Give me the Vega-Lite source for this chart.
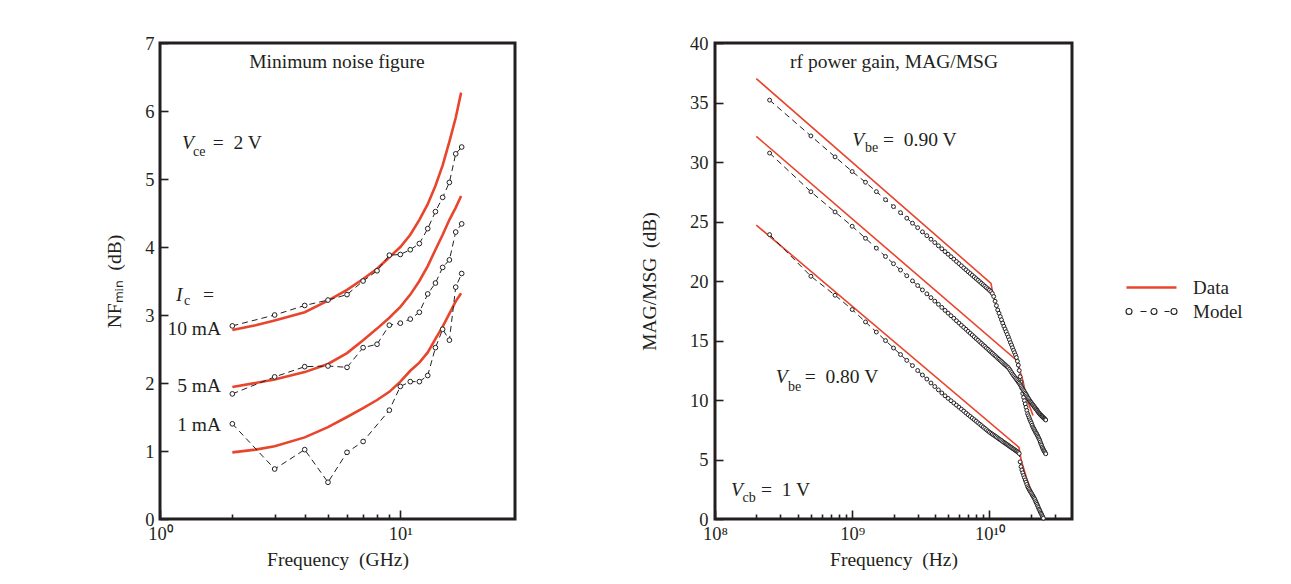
{
  "$schema": "https://vega.github.io/schema/vega-lite/v6.json",
  "background": "white",
  "padding": {"left": 103, "top": 32, "right": 5, "bottom": 5},
  "config": {
    "font": "Liberation Serif",
    "view": {"stroke": "#231f20", "strokeWidth": 3},
    "axis": {
      "labelFont": "Liberation Serif", "labelFontSize": 18.5, "labelColor": "#231f20",
      "titleFont": "Liberation Serif", "titleFontSize": 19.5, "titleFontWeight": "normal", "titleColor": "#231f20",
      "grid": false, "domain": false, "ticks": true, "tickColor": "#231f20", "tickWidth": 1.6, "tickOpacity": 1,
      "labelFlush": false, "labelOverlap": false
    },
    "legend": {"labelFont": "Liberation Serif", "labelFontSize": 19, "labelColor": "#231f20", "title": null, "symbolSize": 100, "labelOffset": 32},
    "text": {"font": "Liberation Serif", "color": "#231f20"}
  },
  "datasets": {
    "nfData": [
      {"ghz": 2, "db": 2.78, "ic": "10 mA"}, {"ghz": 2.5, "db": 2.85, "ic": "10 mA"}, {"ghz": 3, "db": 2.92, "ic": "10 mA"}, {"ghz": 4, "db": 3.04, "ic": "10 mA"}, {"ghz": 5, "db": 3.21, "ic": "10 mA"}, {"ghz": 6, "db": 3.37, "ic": "10 mA"}, {"ghz": 7, "db": 3.53, "ic": "10 mA"}, {"ghz": 8, "db": 3.68, "ic": "10 mA"}, {"ghz": 9, "db": 3.85, "ic": "10 mA"}, {"ghz": 10, "db": 4.0, "ic": "10 mA"}, {"ghz": 11, "db": 4.18, "ic": "10 mA"}, {"ghz": 12, "db": 4.4, "ic": "10 mA"}, {"ghz": 13, "db": 4.63, "ic": "10 mA"}, {"ghz": 14, "db": 4.9, "ic": "10 mA"}, {"ghz": 15, "db": 5.2, "ic": "10 mA"}, {"ghz": 16, "db": 5.55, "ic": "10 mA"}, {"ghz": 17, "db": 5.9, "ic": "10 mA"}, {"ghz": 17.9, "db": 6.27, "ic": "10 mA"},
      {"ghz": 2, "db": 1.94, "ic": "5 mA"}, {"ghz": 3, "db": 2.05, "ic": "5 mA"}, {"ghz": 4, "db": 2.16, "ic": "5 mA"}, {"ghz": 5, "db": 2.28, "ic": "5 mA"}, {"ghz": 6, "db": 2.44, "ic": "5 mA"}, {"ghz": 7, "db": 2.63, "ic": "5 mA"}, {"ghz": 8, "db": 2.8, "ic": "5 mA"}, {"ghz": 9, "db": 2.96, "ic": "5 mA"}, {"ghz": 10, "db": 3.12, "ic": "5 mA"}, {"ghz": 11, "db": 3.3, "ic": "5 mA"}, {"ghz": 12, "db": 3.5, "ic": "5 mA"}, {"ghz": 13, "db": 3.72, "ic": "5 mA"}, {"ghz": 14, "db": 3.96, "ic": "5 mA"}, {"ghz": 15, "db": 4.18, "ic": "5 mA"}, {"ghz": 16, "db": 4.4, "ic": "5 mA"}, {"ghz": 17, "db": 4.58, "ic": "5 mA"}, {"ghz": 17.9, "db": 4.75, "ic": "5 mA"},
      {"ghz": 2, "db": 0.98, "ic": "1 mA"}, {"ghz": 2.5, "db": 1.02, "ic": "1 mA"}, {"ghz": 3, "db": 1.07, "ic": "1 mA"}, {"ghz": 4, "db": 1.2, "ic": "1 mA"}, {"ghz": 5, "db": 1.35, "ic": "1 mA"}, {"ghz": 6, "db": 1.5, "ic": "1 mA"}, {"ghz": 7, "db": 1.63, "ic": "1 mA"}, {"ghz": 8, "db": 1.75, "ic": "1 mA"}, {"ghz": 9, "db": 1.87, "ic": "1 mA"}, {"ghz": 10, "db": 2.02, "ic": "1 mA"}, {"ghz": 11, "db": 2.18, "ic": "1 mA"}, {"ghz": 12, "db": 2.3, "ic": "1 mA"}, {"ghz": 13, "db": 2.45, "ic": "1 mA"}, {"ghz": 14, "db": 2.65, "ic": "1 mA"}, {"ghz": 15, "db": 2.83, "ic": "1 mA"}, {"ghz": 16, "db": 3.02, "ic": "1 mA"}, {"ghz": 17, "db": 3.2, "ic": "1 mA"}, {"ghz": 17.9, "db": 3.32, "ic": "1 mA"}
    ],
    "nfModel": [
      {"ghz": 2, "db": 2.84, "ic": "10 mA"}, {"ghz": 3, "db": 3.0, "ic": "10 mA"}, {"ghz": 4, "db": 3.14, "ic": "10 mA"}, {"ghz": 5, "db": 3.22, "ic": "10 mA"}, {"ghz": 6, "db": 3.3, "ic": "10 mA"}, {"ghz": 7, "db": 3.5, "ic": "10 mA"}, {"ghz": 8, "db": 3.65, "ic": "10 mA"}, {"ghz": 9, "db": 3.88, "ic": "10 mA"}, {"ghz": 10, "db": 3.89, "ic": "10 mA"}, {"ghz": 11, "db": 3.96, "ic": "10 mA"}, {"ghz": 12, "db": 4.05, "ic": "10 mA"}, {"ghz": 13, "db": 4.27, "ic": "10 mA"}, {"ghz": 14, "db": 4.52, "ic": "10 mA"}, {"ghz": 15, "db": 4.73, "ic": "10 mA"}, {"ghz": 16, "db": 4.95, "ic": "10 mA"}, {"ghz": 17, "db": 5.37, "ic": "10 mA"}, {"ghz": 18, "db": 5.47, "ic": "10 mA"},
      {"ghz": 2, "db": 1.84, "ic": "5 mA"}, {"ghz": 3, "db": 2.09, "ic": "5 mA"}, {"ghz": 4, "db": 2.24, "ic": "5 mA"}, {"ghz": 5, "db": 2.25, "ic": "5 mA"}, {"ghz": 6, "db": 2.23, "ic": "5 mA"}, {"ghz": 7, "db": 2.52, "ic": "5 mA"}, {"ghz": 8, "db": 2.57, "ic": "5 mA"}, {"ghz": 9, "db": 2.85, "ic": "5 mA"}, {"ghz": 10, "db": 2.88, "ic": "5 mA"}, {"ghz": 11, "db": 2.94, "ic": "5 mA"}, {"ghz": 12, "db": 3.04, "ic": "5 mA"}, {"ghz": 13, "db": 3.31, "ic": "5 mA"}, {"ghz": 14, "db": 3.47, "ic": "5 mA"}, {"ghz": 15, "db": 3.7, "ic": "5 mA"}, {"ghz": 16, "db": 3.81, "ic": "5 mA"}, {"ghz": 17, "db": 4.22, "ic": "5 mA"}, {"ghz": 18, "db": 4.34, "ic": "5 mA"},
      {"ghz": 2, "db": 1.4, "ic": "1 mA"}, {"ghz": 3, "db": 0.735, "ic": "1 mA"}, {"ghz": 4, "db": 1.02, "ic": "1 mA"}, {"ghz": 5, "db": 0.54, "ic": "1 mA"}, {"ghz": 6, "db": 0.98, "ic": "1 mA"}, {"ghz": 7, "db": 1.14, "ic": "1 mA"}, {"ghz": 9, "db": 1.6, "ic": "1 mA"}, {"ghz": 10, "db": 1.95, "ic": "1 mA"}, {"ghz": 11, "db": 2.02, "ic": "1 mA"}, {"ghz": 12, "db": 2.02, "ic": "1 mA"}, {"ghz": 13, "db": 2.11, "ic": "1 mA"}, {"ghz": 14, "db": 2.52, "ic": "1 mA"}, {"ghz": 15, "db": 2.79, "ic": "1 mA"}, {"ghz": 16, "db": 2.63, "ic": "1 mA"}, {"ghz": 17, "db": 3.41, "ic": "1 mA"}, {"ghz": 18, "db": 3.61, "ic": "1 mA"}
    ],
    "magData": [
      {"hz": 2e8, "db": 37.0, "vbe": "0.90"}, {"hz": 1.028e10, "db": 19.8, "vbe": "0.90"}, {"hz": 1.062e10, "db": 18.8, "vbe": "0.90"}, {"hz": 1.259e10, "db": 16.3, "vbe": "0.90"}, {"hz": 1.413e10, "db": 14.9, "vbe": "0.90"}, {"hz": 1.585e10, "db": 13.4, "vbe": "0.90"}, {"hz": 1.663e10, "db": 12.5, "vbe": "0.90"}, {"hz": 1.758e10, "db": 11.6, "vbe": "0.90"}, {"hz": 1.858e10, "db": 10.2, "vbe": "0.90"}, {"hz": 2.08e10, "db": 8.7, "vbe": "0.90"},
      {"hz": 2e8, "db": 32.15, "vbe": "0.85"}, {"hz": 1.643e10, "db": 13.17, "vbe": "0.85"},
      {"hz": 2e8, "db": 24.7, "vbe": "0.80"}, {"hz": 1.643e10, "db": 6.02, "vbe": "0.80"}, {"hz": 1.708e10, "db": 4.9, "vbe": "0.80"}, {"hz": 1.858e10, "db": 3.5, "vbe": "0.80"}, {"hz": 2.056e10, "db": 2.1, "vbe": "0.80"}
    ],
    "magModel": [
      {"hz": 2.5e8, "db": 35.2, "vbe": "0.90"}, {"hz": 5e8, "db": 32.19, "vbe": "0.90"}, {"hz": 7.5e8, "db": 30.43, "vbe": "0.90"}, {"hz": 1e9, "db": 29.2, "vbe": "0.90"}, {"hz": 1.25e9, "db": 28.3, "vbe": "0.90"}, {"hz": 1.5e9, "db": 27.51, "vbe": "0.90"}, {"hz": 1.75e9, "db": 26.83, "vbe": "0.90"}, {"hz": 2e9, "db": 26.25, "vbe": "0.90"}, {"hz": 2.25e9, "db": 25.74, "vbe": "0.90"}, {"hz": 2.5e9, "db": 25.28, "vbe": "0.90"},
      {"hz": 2.75e9, "db": 24.86, "vbe": "0.90"}, {"hz": 3e9, "db": 24.48, "vbe": "0.90"}, {"hz": 3.25e9, "db": 24.13, "vbe": "0.90"}, {"hz": 3.5e9, "db": 23.81, "vbe": "0.90"}, {"hz": 3.75e9, "db": 23.51, "vbe": "0.90"}, {"hz": 4e9, "db": 23.23, "vbe": "0.90"}, {"hz": 4.25e9, "db": 22.96, "vbe": "0.90"}, {"hz": 4.5e9, "db": 22.71, "vbe": "0.90"}, {"hz": 4.75e9, "db": 22.47, "vbe": "0.90"}, {"hz": 5e9, "db": 22.25, "vbe": "0.90"},
      {"hz": 5.25e9, "db": 22.04, "vbe": "0.90"}, {"hz": 5.5e9, "db": 21.84, "vbe": "0.90"}, {"hz": 5.75e9, "db": 21.64, "vbe": "0.90"}, {"hz": 6e9, "db": 21.46, "vbe": "0.90"}, {"hz": 6.25e9, "db": 21.28, "vbe": "0.90"}, {"hz": 6.5e9, "db": 21.1, "vbe": "0.90"}, {"hz": 6.75e9, "db": 20.94, "vbe": "0.90"}, {"hz": 7e9, "db": 20.78, "vbe": "0.90"}, {"hz": 7.25e9, "db": 20.63, "vbe": "0.90"}, {"hz": 7.5e9, "db": 20.48, "vbe": "0.90"},
      {"hz": 7.75e9, "db": 20.34, "vbe": "0.90"}, {"hz": 8e9, "db": 20.2, "vbe": "0.90"}, {"hz": 8.25e9, "db": 20.07, "vbe": "0.90"}, {"hz": 8.5e9, "db": 19.94, "vbe": "0.90"}, {"hz": 8.75e9, "db": 19.81, "vbe": "0.90"}, {"hz": 9e9, "db": 19.69, "vbe": "0.90"}, {"hz": 9.25e9, "db": 19.57, "vbe": "0.90"}, {"hz": 9.5e9, "db": 19.45, "vbe": "0.90"}, {"hz": 9.75e9, "db": 19.34, "vbe": "0.90"}, {"hz": 1e10, "db": 19.23, "vbe": "0.90"},
      {"hz": 1.025e10, "db": 19.11, "vbe": "0.90"}, {"hz": 1.05e10, "db": 18.95, "vbe": "0.90"}, {"hz": 1.075e10, "db": 18.7, "vbe": "0.90"}, {"hz": 1.1e10, "db": 18.3, "vbe": "0.90"}, {"hz": 1.125e10, "db": 17.93, "vbe": "0.90"}, {"hz": 1.15e10, "db": 17.57, "vbe": "0.90"}, {"hz": 1.175e10, "db": 17.29, "vbe": "0.90"}, {"hz": 1.2e10, "db": 17.01, "vbe": "0.90"}, {"hz": 1.225e10, "db": 16.74, "vbe": "0.90"}, {"hz": 1.25e10, "db": 16.46, "vbe": "0.90"},
      {"hz": 1.275e10, "db": 16.2, "vbe": "0.90"}, {"hz": 1.3e10, "db": 15.97, "vbe": "0.90"}, {"hz": 1.325e10, "db": 15.74, "vbe": "0.90"}, {"hz": 1.35e10, "db": 15.51, "vbe": "0.90"}, {"hz": 1.375e10, "db": 15.29, "vbe": "0.90"}, {"hz": 1.4e10, "db": 15.06, "vbe": "0.90"}, {"hz": 1.425e10, "db": 14.82, "vbe": "0.90"}, {"hz": 1.45e10, "db": 14.62, "vbe": "0.90"}, {"hz": 1.475e10, "db": 14.39, "vbe": "0.90"}, {"hz": 1.5e10, "db": 14.18, "vbe": "0.90"},
      {"hz": 1.525e10, "db": 13.98, "vbe": "0.90"}, {"hz": 1.55e10, "db": 13.78, "vbe": "0.90"}, {"hz": 1.575e10, "db": 13.57, "vbe": "0.90"}, {"hz": 1.6e10, "db": 13.26, "vbe": "0.90"}, {"hz": 1.625e10, "db": 12.93, "vbe": "0.90"}, {"hz": 1.65e10, "db": 12.48, "vbe": "0.90"}, {"hz": 1.675e10, "db": 11.96, "vbe": "0.90"}, {"hz": 1.7e10, "db": 11.51, "vbe": "0.90"}, {"hz": 1.725e10, "db": 10.99, "vbe": "0.90"}, {"hz": 1.75e10, "db": 10.55, "vbe": "0.90"},
      {"hz": 1.775e10, "db": 10.22, "vbe": "0.90"}, {"hz": 1.8e10, "db": 9.94, "vbe": "0.90"}, {"hz": 1.825e10, "db": 9.67, "vbe": "0.90"}, {"hz": 1.85e10, "db": 9.39, "vbe": "0.90"}, {"hz": 1.875e10, "db": 9.12, "vbe": "0.90"}, {"hz": 1.9e10, "db": 8.85, "vbe": "0.90"}, {"hz": 1.925e10, "db": 8.68, "vbe": "0.90"}, {"hz": 1.95e10, "db": 8.51, "vbe": "0.90"}, {"hz": 1.975e10, "db": 8.34, "vbe": "0.90"}, {"hz": 2e10, "db": 8.19, "vbe": "0.90"},
      {"hz": 2.025e10, "db": 8.05, "vbe": "0.90"}, {"hz": 2.05e10, "db": 7.88, "vbe": "0.90"}, {"hz": 2.075e10, "db": 7.73, "vbe": "0.90"}, {"hz": 2.1e10, "db": 7.61, "vbe": "0.90"}, {"hz": 2.125e10, "db": 7.51, "vbe": "0.90"}, {"hz": 2.15e10, "db": 7.4, "vbe": "0.90"}, {"hz": 2.175e10, "db": 7.27, "vbe": "0.90"}, {"hz": 2.2e10, "db": 7.19, "vbe": "0.90"}, {"hz": 2.225e10, "db": 7.08, "vbe": "0.90"}, {"hz": 2.25e10, "db": 6.97, "vbe": "0.90"},
      {"hz": 2.275e10, "db": 6.86, "vbe": "0.90"}, {"hz": 2.3e10, "db": 6.74, "vbe": "0.90"}, {"hz": 2.325e10, "db": 6.62, "vbe": "0.90"}, {"hz": 2.35e10, "db": 6.47, "vbe": "0.90"}, {"hz": 2.375e10, "db": 6.32, "vbe": "0.90"}, {"hz": 2.4e10, "db": 6.2, "vbe": "0.90"}, {"hz": 2.425e10, "db": 6.05, "vbe": "0.90"}, {"hz": 2.45e10, "db": 5.93, "vbe": "0.90"}, {"hz": 2.475e10, "db": 5.82, "vbe": "0.90"}, {"hz": 2.5e10, "db": 5.74, "vbe": "0.90"},
      {"hz": 2.525e10, "db": 5.66, "vbe": "0.90"}, {"hz": 2.55e10, "db": 5.56, "vbe": "0.90"}, {"hz": 2.575e10, "db": 5.48, "vbe": "0.90"},
      {"hz": 2.5e8, "db": 30.75, "vbe": "0.85"}, {"hz": 5e8, "db": 27.5, "vbe": "0.85"}, {"hz": 7.5e8, "db": 25.8, "vbe": "0.85"}, {"hz": 1e9, "db": 24.6, "vbe": "0.85"}, {"hz": 1.25e9, "db": 23.59, "vbe": "0.85"}, {"hz": 1.5e9, "db": 22.76, "vbe": "0.85"}, {"hz": 1.75e9, "db": 22.06, "vbe": "0.85"}, {"hz": 2e9, "db": 21.45, "vbe": "0.85"}, {"hz": 2.25e9, "db": 20.92, "vbe": "0.85"}, {"hz": 2.5e9, "db": 20.44, "vbe": "0.85"},
      {"hz": 2.75e9, "db": 20.01, "vbe": "0.85"}, {"hz": 3e9, "db": 19.62, "vbe": "0.85"}, {"hz": 3.25e9, "db": 19.25, "vbe": "0.85"}, {"hz": 3.5e9, "db": 18.92, "vbe": "0.85"}, {"hz": 3.75e9, "db": 18.6, "vbe": "0.85"}, {"hz": 4e9, "db": 18.31, "vbe": "0.85"}, {"hz": 4.25e9, "db": 18.04, "vbe": "0.85"}, {"hz": 4.5e9, "db": 17.78, "vbe": "0.85"}, {"hz": 4.75e9, "db": 17.53, "vbe": "0.85"}, {"hz": 5e9, "db": 17.3, "vbe": "0.85"},
      {"hz": 5.25e9, "db": 17.08, "vbe": "0.85"}, {"hz": 5.5e9, "db": 16.87, "vbe": "0.85"}, {"hz": 5.75e9, "db": 16.66, "vbe": "0.85"}, {"hz": 6e9, "db": 16.47, "vbe": "0.85"}, {"hz": 6.25e9, "db": 16.28, "vbe": "0.85"}, {"hz": 6.5e9, "db": 16.1, "vbe": "0.85"}, {"hz": 6.75e9, "db": 15.94, "vbe": "0.85"}, {"hz": 7e9, "db": 15.77, "vbe": "0.85"}, {"hz": 7.25e9, "db": 15.61, "vbe": "0.85"}, {"hz": 7.5e9, "db": 15.46, "vbe": "0.85"},
      {"hz": 7.75e9, "db": 15.31, "vbe": "0.85"}, {"hz": 8e9, "db": 15.16, "vbe": "0.85"}, {"hz": 8.25e9, "db": 15.03, "vbe": "0.85"}, {"hz": 8.5e9, "db": 14.89, "vbe": "0.85"}, {"hz": 8.75e9, "db": 14.76, "vbe": "0.85"}, {"hz": 9e9, "db": 14.63, "vbe": "0.85"}, {"hz": 9.25e9, "db": 14.51, "vbe": "0.85"}, {"hz": 9.5e9, "db": 14.38, "vbe": "0.85"}, {"hz": 9.75e9, "db": 14.27, "vbe": "0.85"}, {"hz": 1e10, "db": 14.15, "vbe": "0.85"},
      {"hz": 1.025e10, "db": 14.04, "vbe": "0.85"}, {"hz": 1.05e10, "db": 13.93, "vbe": "0.85"}, {"hz": 1.075e10, "db": 13.82, "vbe": "0.85"}, {"hz": 1.1e10, "db": 13.72, "vbe": "0.85"}, {"hz": 1.125e10, "db": 13.62, "vbe": "0.85"}, {"hz": 1.15e10, "db": 13.51, "vbe": "0.85"}, {"hz": 1.175e10, "db": 13.42, "vbe": "0.85"}, {"hz": 1.2e10, "db": 13.32, "vbe": "0.85"}, {"hz": 1.225e10, "db": 13.23, "vbe": "0.85"}, {"hz": 1.25e10, "db": 13.14, "vbe": "0.85"},
      {"hz": 1.275e10, "db": 13.04, "vbe": "0.85"}, {"hz": 1.3e10, "db": 12.96, "vbe": "0.85"}, {"hz": 1.325e10, "db": 12.88, "vbe": "0.85"}, {"hz": 1.35e10, "db": 12.79, "vbe": "0.85"}, {"hz": 1.375e10, "db": 12.71, "vbe": "0.85"}, {"hz": 1.4e10, "db": 12.58, "vbe": "0.85"}, {"hz": 1.425e10, "db": 12.45, "vbe": "0.85"}, {"hz": 1.45e10, "db": 12.31, "vbe": "0.85"}, {"hz": 1.475e10, "db": 12.18, "vbe": "0.85"}, {"hz": 1.5e10, "db": 12.06, "vbe": "0.85"},
      {"hz": 1.525e10, "db": 11.95, "vbe": "0.85"}, {"hz": 1.55e10, "db": 11.84, "vbe": "0.85"}, {"hz": 1.575e10, "db": 11.73, "vbe": "0.85"}, {"hz": 1.6e10, "db": 11.62, "vbe": "0.85"}, {"hz": 1.625e10, "db": 11.51, "vbe": "0.85"}, {"hz": 1.65e10, "db": 11.41, "vbe": "0.85"}, {"hz": 1.675e10, "db": 11.29, "vbe": "0.85"}, {"hz": 1.7e10, "db": 11.18, "vbe": "0.85"}, {"hz": 1.725e10, "db": 11.04, "vbe": "0.85"}, {"hz": 1.75e10, "db": 10.93, "vbe": "0.85"},
      {"hz": 1.775e10, "db": 10.81, "vbe": "0.85"}, {"hz": 1.8e10, "db": 10.7, "vbe": "0.85"}, {"hz": 1.825e10, "db": 10.58, "vbe": "0.85"}, {"hz": 1.85e10, "db": 10.47, "vbe": "0.85"}, {"hz": 1.875e10, "db": 10.35, "vbe": "0.85"}, {"hz": 1.9e10, "db": 10.23, "vbe": "0.85"}, {"hz": 1.925e10, "db": 10.13, "vbe": "0.85"}, {"hz": 1.95e10, "db": 10.02, "vbe": "0.85"}, {"hz": 1.975e10, "db": 9.91, "vbe": "0.85"}, {"hz": 2e10, "db": 9.83, "vbe": "0.85"},
      {"hz": 2.025e10, "db": 9.76, "vbe": "0.85"}, {"hz": 2.05e10, "db": 9.66, "vbe": "0.85"}, {"hz": 2.075e10, "db": 9.59, "vbe": "0.85"}, {"hz": 2.1e10, "db": 9.51, "vbe": "0.85"}, {"hz": 2.125e10, "db": 9.43, "vbe": "0.85"}, {"hz": 2.15e10, "db": 9.36, "vbe": "0.85"}, {"hz": 2.175e10, "db": 9.27, "vbe": "0.85"}, {"hz": 2.2e10, "db": 9.21, "vbe": "0.85"}, {"hz": 2.225e10, "db": 9.13, "vbe": "0.85"}, {"hz": 2.25e10, "db": 9.05, "vbe": "0.85"},
      {"hz": 2.275e10, "db": 8.97, "vbe": "0.85"}, {"hz": 2.3e10, "db": 8.9, "vbe": "0.85"}, {"hz": 2.325e10, "db": 8.84, "vbe": "0.85"}, {"hz": 2.35e10, "db": 8.78, "vbe": "0.85"}, {"hz": 2.375e10, "db": 8.72, "vbe": "0.85"}, {"hz": 2.4e10, "db": 8.67, "vbe": "0.85"}, {"hz": 2.425e10, "db": 8.62, "vbe": "0.85"}, {"hz": 2.45e10, "db": 8.57, "vbe": "0.85"}, {"hz": 2.475e10, "db": 8.52, "vbe": "0.85"}, {"hz": 2.5e10, "db": 8.47, "vbe": "0.85"},
      {"hz": 2.525e10, "db": 8.43, "vbe": "0.85"}, {"hz": 2.55e10, "db": 8.37, "vbe": "0.85"}, {"hz": 2.575e10, "db": 8.32, "vbe": "0.85"},
      {"hz": 2.5e8, "db": 23.9, "vbe": "0.80"}, {"hz": 5e8, "db": 20.4, "vbe": "0.80"}, {"hz": 7.5e8, "db": 18.8, "vbe": "0.80"}, {"hz": 1e9, "db": 17.6, "vbe": "0.80"}, {"hz": 1.25e9, "db": 16.56, "vbe": "0.80"}, {"hz": 1.5e9, "db": 15.71, "vbe": "0.80"}, {"hz": 1.75e9, "db": 14.99, "vbe": "0.80"}, {"hz": 2e9, "db": 14.37, "vbe": "0.80"}, {"hz": 2.25e9, "db": 13.82, "vbe": "0.80"}, {"hz": 2.5e9, "db": 13.33, "vbe": "0.80"},
      {"hz": 2.75e9, "db": 12.89, "vbe": "0.80"}, {"hz": 3e9, "db": 12.48, "vbe": "0.80"}, {"hz": 3.25e9, "db": 12.1, "vbe": "0.80"}, {"hz": 3.5e9, "db": 11.76, "vbe": "0.80"}, {"hz": 3.75e9, "db": 11.43, "vbe": "0.80"}, {"hz": 4e9, "db": 11.13, "vbe": "0.80"}, {"hz": 4.25e9, "db": 10.85, "vbe": "0.80"}, {"hz": 4.5e9, "db": 10.59, "vbe": "0.80"}, {"hz": 4.75e9, "db": 10.35, "vbe": "0.80"}, {"hz": 5e9, "db": 10.14, "vbe": "0.80"},
      {"hz": 5.25e9, "db": 9.94, "vbe": "0.80"}, {"hz": 5.5e9, "db": 9.75, "vbe": "0.80"}, {"hz": 5.75e9, "db": 9.57, "vbe": "0.80"}, {"hz": 6e9, "db": 9.4, "vbe": "0.80"}, {"hz": 6.25e9, "db": 9.23, "vbe": "0.80"}, {"hz": 6.5e9, "db": 9.07, "vbe": "0.80"}, {"hz": 6.75e9, "db": 8.91, "vbe": "0.80"}, {"hz": 7e9, "db": 8.76, "vbe": "0.80"}, {"hz": 7.25e9, "db": 8.62, "vbe": "0.80"}, {"hz": 7.5e9, "db": 8.48, "vbe": "0.80"},
      {"hz": 7.75e9, "db": 8.35, "vbe": "0.80"}, {"hz": 8e9, "db": 8.22, "vbe": "0.80"}, {"hz": 8.25e9, "db": 8.09, "vbe": "0.80"}, {"hz": 8.5e9, "db": 7.97, "vbe": "0.80"}, {"hz": 8.75e9, "db": 7.85, "vbe": "0.80"}, {"hz": 9e9, "db": 7.73, "vbe": "0.80"}, {"hz": 9.25e9, "db": 7.62, "vbe": "0.80"}, {"hz": 9.5e9, "db": 7.51, "vbe": "0.80"}, {"hz": 9.75e9, "db": 7.4, "vbe": "0.80"}, {"hz": 1e10, "db": 7.3, "vbe": "0.80"},
      {"hz": 1.025e10, "db": 7.21, "vbe": "0.80"}, {"hz": 1.05e10, "db": 7.13, "vbe": "0.80"}, {"hz": 1.075e10, "db": 7.05, "vbe": "0.80"}, {"hz": 1.1e10, "db": 6.97, "vbe": "0.80"}, {"hz": 1.125e10, "db": 6.89, "vbe": "0.80"}, {"hz": 1.15e10, "db": 6.81, "vbe": "0.80"}, {"hz": 1.175e10, "db": 6.73, "vbe": "0.80"}, {"hz": 1.2e10, "db": 6.66, "vbe": "0.80"}, {"hz": 1.225e10, "db": 6.59, "vbe": "0.80"}, {"hz": 1.25e10, "db": 6.51, "vbe": "0.80"},
      {"hz": 1.275e10, "db": 6.44, "vbe": "0.80"}, {"hz": 1.3e10, "db": 6.38, "vbe": "0.80"}, {"hz": 1.325e10, "db": 6.31, "vbe": "0.80"}, {"hz": 1.35e10, "db": 6.25, "vbe": "0.80"}, {"hz": 1.375e10, "db": 6.18, "vbe": "0.80"}, {"hz": 1.4e10, "db": 6.12, "vbe": "0.80"}, {"hz": 1.425e10, "db": 6.05, "vbe": "0.80"}, {"hz": 1.45e10, "db": 6.0, "vbe": "0.80"}, {"hz": 1.475e10, "db": 5.93, "vbe": "0.80"}, {"hz": 1.5e10, "db": 5.88, "vbe": "0.80"},
      {"hz": 1.525e10, "db": 5.82, "vbe": "0.80"}, {"hz": 1.55e10, "db": 5.76, "vbe": "0.80"}, {"hz": 1.575e10, "db": 5.71, "vbe": "0.80"}, {"hz": 1.6e10, "db": 5.65, "vbe": "0.80"}, {"hz": 1.625e10, "db": 5.59, "vbe": "0.80"}, {"hz": 1.65e10, "db": 5.5, "vbe": "0.80"}, {"hz": 1.675e10, "db": 4.8, "vbe": "0.80"}, {"hz": 1.7e10, "db": 4.4, "vbe": "0.80"}, {"hz": 1.725e10, "db": 4.12, "vbe": "0.80"}, {"hz": 1.75e10, "db": 3.88, "vbe": "0.80"},
      {"hz": 1.775e10, "db": 3.66, "vbe": "0.80"}, {"hz": 1.8e10, "db": 3.47, "vbe": "0.80"}, {"hz": 1.825e10, "db": 3.28, "vbe": "0.80"}, {"hz": 1.85e10, "db": 3.1, "vbe": "0.80"}, {"hz": 1.875e10, "db": 2.91, "vbe": "0.80"}, {"hz": 1.9e10, "db": 2.72, "vbe": "0.80"}, {"hz": 1.925e10, "db": 2.6, "vbe": "0.80"}, {"hz": 1.95e10, "db": 2.48, "vbe": "0.80"}, {"hz": 1.975e10, "db": 2.36, "vbe": "0.80"}, {"hz": 2e10, "db": 2.26, "vbe": "0.80"},
      {"hz": 2.025e10, "db": 2.16, "vbe": "0.80"}, {"hz": 2.05e10, "db": 2.04, "vbe": "0.80"}, {"hz": 2.075e10, "db": 1.94, "vbe": "0.80"}, {"hz": 2.1e10, "db": 1.84, "vbe": "0.80"}, {"hz": 2.125e10, "db": 1.74, "vbe": "0.80"}, {"hz": 2.15e10, "db": 1.63, "vbe": "0.80"}, {"hz": 2.175e10, "db": 1.47, "vbe": "0.80"}, {"hz": 2.2e10, "db": 1.36, "vbe": "0.80"}, {"hz": 2.225e10, "db": 1.23, "vbe": "0.80"}, {"hz": 2.25e10, "db": 1.1, "vbe": "0.80"},
      {"hz": 2.275e10, "db": 0.97, "vbe": "0.80"}, {"hz": 2.3e10, "db": 0.83, "vbe": "0.80"}, {"hz": 2.325e10, "db": 0.73, "vbe": "0.80"}, {"hz": 2.35e10, "db": 0.6, "vbe": "0.80"}, {"hz": 2.375e10, "db": 0.49, "vbe": "0.80"}, {"hz": 2.4e10, "db": 0.39, "vbe": "0.80"}, {"hz": 2.425e10, "db": 0.27, "vbe": "0.80"}, {"hz": 2.45e10, "db": 0.18, "vbe": "0.80"}, {"hz": 2.475e10, "db": 0.06, "vbe": "0.80"}
    ]
  },
  "hconcat": [
    {
      "width": 355,
      "height": 476,
      "resolve": {"axis": {"x": "independent", "y": "independent"}},
      "layer": [
        {
          "data": {"name": "nfData"},
          "mark": {"type": "line", "strokeWidth": 2.6},
          "encoding": {
            "x": {"field": "ghz", "type": "quantitative", "scale": {"type": "log", "domain": [1, 30], "nice": false},
                  "axis": {"orient": "bottom", "values": [1, 10], "tickSize": 9, "offset": -9, "labelPadding": 5, "labelExpr": "datum.value < 5 ? '10⁰' : '10¹'", "title": "Frequency\u00a0\u00a0(GHz)", "titlePadding": 8}},
            "y": {"field": "db", "type": "quantitative", "scale": {"domain": [0, 7], "nice": false},
                  "axis": {"orient": "left", "values": [0, 1, 2, 3, 4, 5, 6, 7], "tickSize": 8, "offset": -8, "labelPadding": 6, "title": "NFₘᵢₙ\u00a0\u00a0(dB)", "titlePadding": 20}},
            "detail": {"field": "ic"},
            "color": {"datum": "Data", "type": "nominal",
                      "scale": {"domain": ["Data"], "range": ["#e8452d"]},
                      "legend": {"orient": "none", "legendX": 982, "legendY": 235, "symbolType": "M-5,0H5", "symbolStrokeWidth": 2.5}}
          }
        },
        {
          "data": {"name": "nfModel"},
          "mark": {"type": "line", "strokeWidth": 1, "strokeDash": [6, 4], "color": "#231f20"},
          "encoding": {
            "x": {"field": "ghz", "type": "quantitative", "axis": null},
            "y": {"field": "db", "type": "quantitative", "axis": null},
            "detail": {"field": "ic"},
            "opacity": {"datum": "Model", "type": "nominal",
                        "scale": {"domain": ["Model"], "range": [1]},
                        "legend": {"orient": "none", "legendX": 982, "legendY": 259, "symbolType": "M-5.1,0a0.6,0.6 0 1,0 1.2,0a0.6,0.6 0 1,0 -1.2,0M-2.2,0H-1M-0.1,0a0.6,0.6 0 1,0 1.2,0a0.6,0.6 0 1,0 -1.2,0M2.6,0H3.6M3.9,0a0.6,0.6 0 1,0 1.2,0a0.6,0.6 0 1,0 -1.2,0", "symbolStrokeColor": "#231f20", "symbolFillColor": "transparent", "symbolStrokeWidth": 1.1, "symbolOpacity": 1}}
          }
        },
        {
          "data": {"name": "nfModel"},
          "mark": {"type": "point", "shape": "circle", "size": 22, "filled": false, "fill": "white", "stroke": "#231f20", "strokeWidth": 1, "opacity": 1},
          "encoding": {
            "x": {"field": "ghz", "type": "quantitative", "axis": {"orient": "bottom", "values": [2, 3, 4, 5, 6, 7, 8, 9], "tickSize": 5, "offset": -5, "labels": false, "title": null}},
            "y": {"field": "db", "type": "quantitative", "axis": null}
          }
        },
        {
          "data": {"values": [{"ghz": 5.45, "db": 6.63, "t": "Minimum noise figure"}]},
          "mark": {"type": "text", "align": "center", "baseline": "alphabetic", "fontSize": 19.5},
          "encoding": {"x": {"field": "ghz", "type": "quantitative", "axis": null}, "y": {"field": "db", "type": "quantitative", "axis": null}, "text": {"field": "t"}}
        },
        {
          "data": {"values": [{"ghz": 1.235, "db": 5.44, "t": "V"}, {"ghz": 1.166, "db": 3.21, "t": "I"}]},
          "mark": {"type": "text", "align": "left", "baseline": "alphabetic", "fontSize": 19.5, "fontStyle": "italic"},
          "encoding": {"x": {"field": "ghz", "type": "quantitative", "axis": null}, "y": {"field": "db", "type": "quantitative", "axis": null}, "text": {"field": "t"}}
        },
        {
          "data": {"values": [{"ghz": 1.372, "db": 5.34, "t": "ce"}, {"ghz": 1.259, "db": 3.14, "t": "c"}]},
          "mark": {"type": "text", "align": "left", "baseline": "alphabetic", "fontSize": 14},
          "encoding": {"x": {"field": "ghz", "type": "quantitative", "axis": null}, "y": {"field": "db", "type": "quantitative", "axis": null}, "text": {"field": "t"}}
        },
        {
          "data": {"values": [{"ghz": 1.657, "db": 5.44, "t": "=\u00a0 2 V"}, {"ghz": 1.51, "db": 3.21, "t": "="}]},
          "mark": {"type": "text", "align": "left", "baseline": "alphabetic", "fontSize": 19.5},
          "encoding": {"x": {"field": "ghz", "type": "quantitative", "axis": null}, "y": {"field": "db", "type": "quantitative", "axis": null}, "text": {"field": "t"}}
        },
        {
          "data": {"values": [{"ghz": 1.794, "db": 2.71, "t": "10 mA"}, {"ghz": 1.794, "db": 1.87, "t": "5 mA"}, {"ghz": 1.794, "db": 1.29, "t": "1 mA"}]},
          "mark": {"type": "text", "align": "right", "baseline": "alphabetic", "fontSize": 19.5},
          "encoding": {"x": {"field": "ghz", "type": "quantitative", "axis": null}, "y": {"field": "db", "type": "quantitative", "axis": null}, "text": {"field": "t"}}
        }
      ]
    },
    {
      "width": 357,
      "height": 476,
      "resolve": {"axis": {"x": "independent", "y": "independent"}},
      "layer": [
        {
          "data": {"name": "magData"},
          "mark": {"type": "line", "strokeWidth": 1.6},
          "encoding": {
            "x": {"field": "hz", "type": "quantitative", "scale": {"type": "log", "domain": [1e8, 4e10], "nice": false},
                  "axis": {"orient": "bottom", "values": [1e8, 1e9, 1e10], "tickSize": 9, "offset": -9, "labelPadding": 5, "labelExpr": "datum.value < 5e8 ? '10⁸' : datum.value < 5e9 ? '10⁹' : '10¹⁰'", "title": "Frequency\u00a0\u00a0(Hz)", "titlePadding": 8}},
            "y": {"field": "db", "type": "quantitative", "scale": {"domain": [0, 40], "nice": false},
                  "axis": {"orient": "left", "values": [0, 5, 10, 15, 20, 25, 30, 35, 40], "tickSize": 8, "offset": -8, "labelPadding": 7, "title": "MAG/MSG\u00a0\u00a0(dB)", "titlePadding": 30}},
            "detail": {"field": "vbe"},
            "color": {"datum": "Data", "type": "nominal"}
          }
        },
        {
          "data": {"name": "magModel"},
          "mark": {"type": "line", "strokeWidth": 1, "strokeDash": [6, 4], "color": "#231f20"},
          "encoding": {
            "x": {"field": "hz", "type": "quantitative", "axis": null},
            "y": {"field": "db", "type": "quantitative", "axis": null},
            "detail": {"field": "vbe"}
          }
        },
        {
          "data": {"name": "magModel"},
          "mark": {"type": "point", "shape": "circle", "size": 15, "filled": false, "fill": "white", "stroke": "#231f20", "strokeWidth": 1, "opacity": 1},
          "encoding": {
            "x": {"field": "hz", "type": "quantitative", "axis": {"orient": "bottom", "values": [2e8, 3e8, 4e8, 5e8, 6e8, 7e8, 8e8, 9e8, 2e9, 3e9, 4e9, 5e9, 6e9, 7e9, 8e9, 9e9, 2e10, 3e10], "tickSize": 5, "offset": -5, "labels": false, "title": null}},
            "y": {"field": "db", "type": "quantitative", "axis": null}
          }
        },
        {
          "data": {"values": [{"hz": 2.017e9, "db": 37.9, "t": "rf power gain, MAG/MSG"}]},
          "mark": {"type": "text", "align": "center", "baseline": "alphabetic", "fontSize": 19.5},
          "encoding": {"x": {"field": "hz", "type": "quantitative", "axis": null}, "y": {"field": "db", "type": "quantitative", "axis": null}, "text": {"field": "t"}}
        },
        {
          "data": {"values": [{"hz": 1.0e9, "db": 31.37, "t": "V"}, {"hz": 2.77e8, "db": 11.39, "t": "V"}, {"hz": 1.308e8, "db": 1.96, "t": "V"}]},
          "mark": {"type": "text", "align": "left", "baseline": "alphabetic", "fontSize": 19.5, "fontStyle": "italic"},
          "encoding": {"x": {"field": "hz", "type": "quantitative", "axis": null}, "y": {"field": "db", "type": "quantitative", "axis": null}, "text": {"field": "t"}}
        },
        {
          "data": {"values": [{"hz": 1.24e9, "db": 30.87, "t": "be"}, {"hz": 3.4e8, "db": 10.72, "t": "be"}, {"hz": 1.586e8, "db": 1.39, "t": "cb"}]},
          "mark": {"type": "text", "align": "left", "baseline": "alphabetic", "fontSize": 14},
          "encoding": {"x": {"field": "hz", "type": "quantitative", "axis": null}, "y": {"field": "db", "type": "quantitative", "axis": null}, "text": {"field": "t"}}
        },
        {
          "data": {"values": [{"hz": 1.677e9, "db": 31.37, "t": "=\u00a0 0.90 V"}, {"hz": 4.51e8, "db": 11.39, "t": "=\u00a0 0.80 V"}, {"hz": 2.164e8, "db": 1.96, "t": "=\u00a0 1 V"}]},
          "mark": {"type": "text", "align": "left", "baseline": "alphabetic", "fontSize": 19.5},
          "encoding": {"x": {"field": "hz", "type": "quantitative", "axis": null}, "y": {"field": "db", "type": "quantitative", "axis": null}, "text": {"field": "t"}}
        }
      ]
    }
  ],
  "spacing": 121
}
